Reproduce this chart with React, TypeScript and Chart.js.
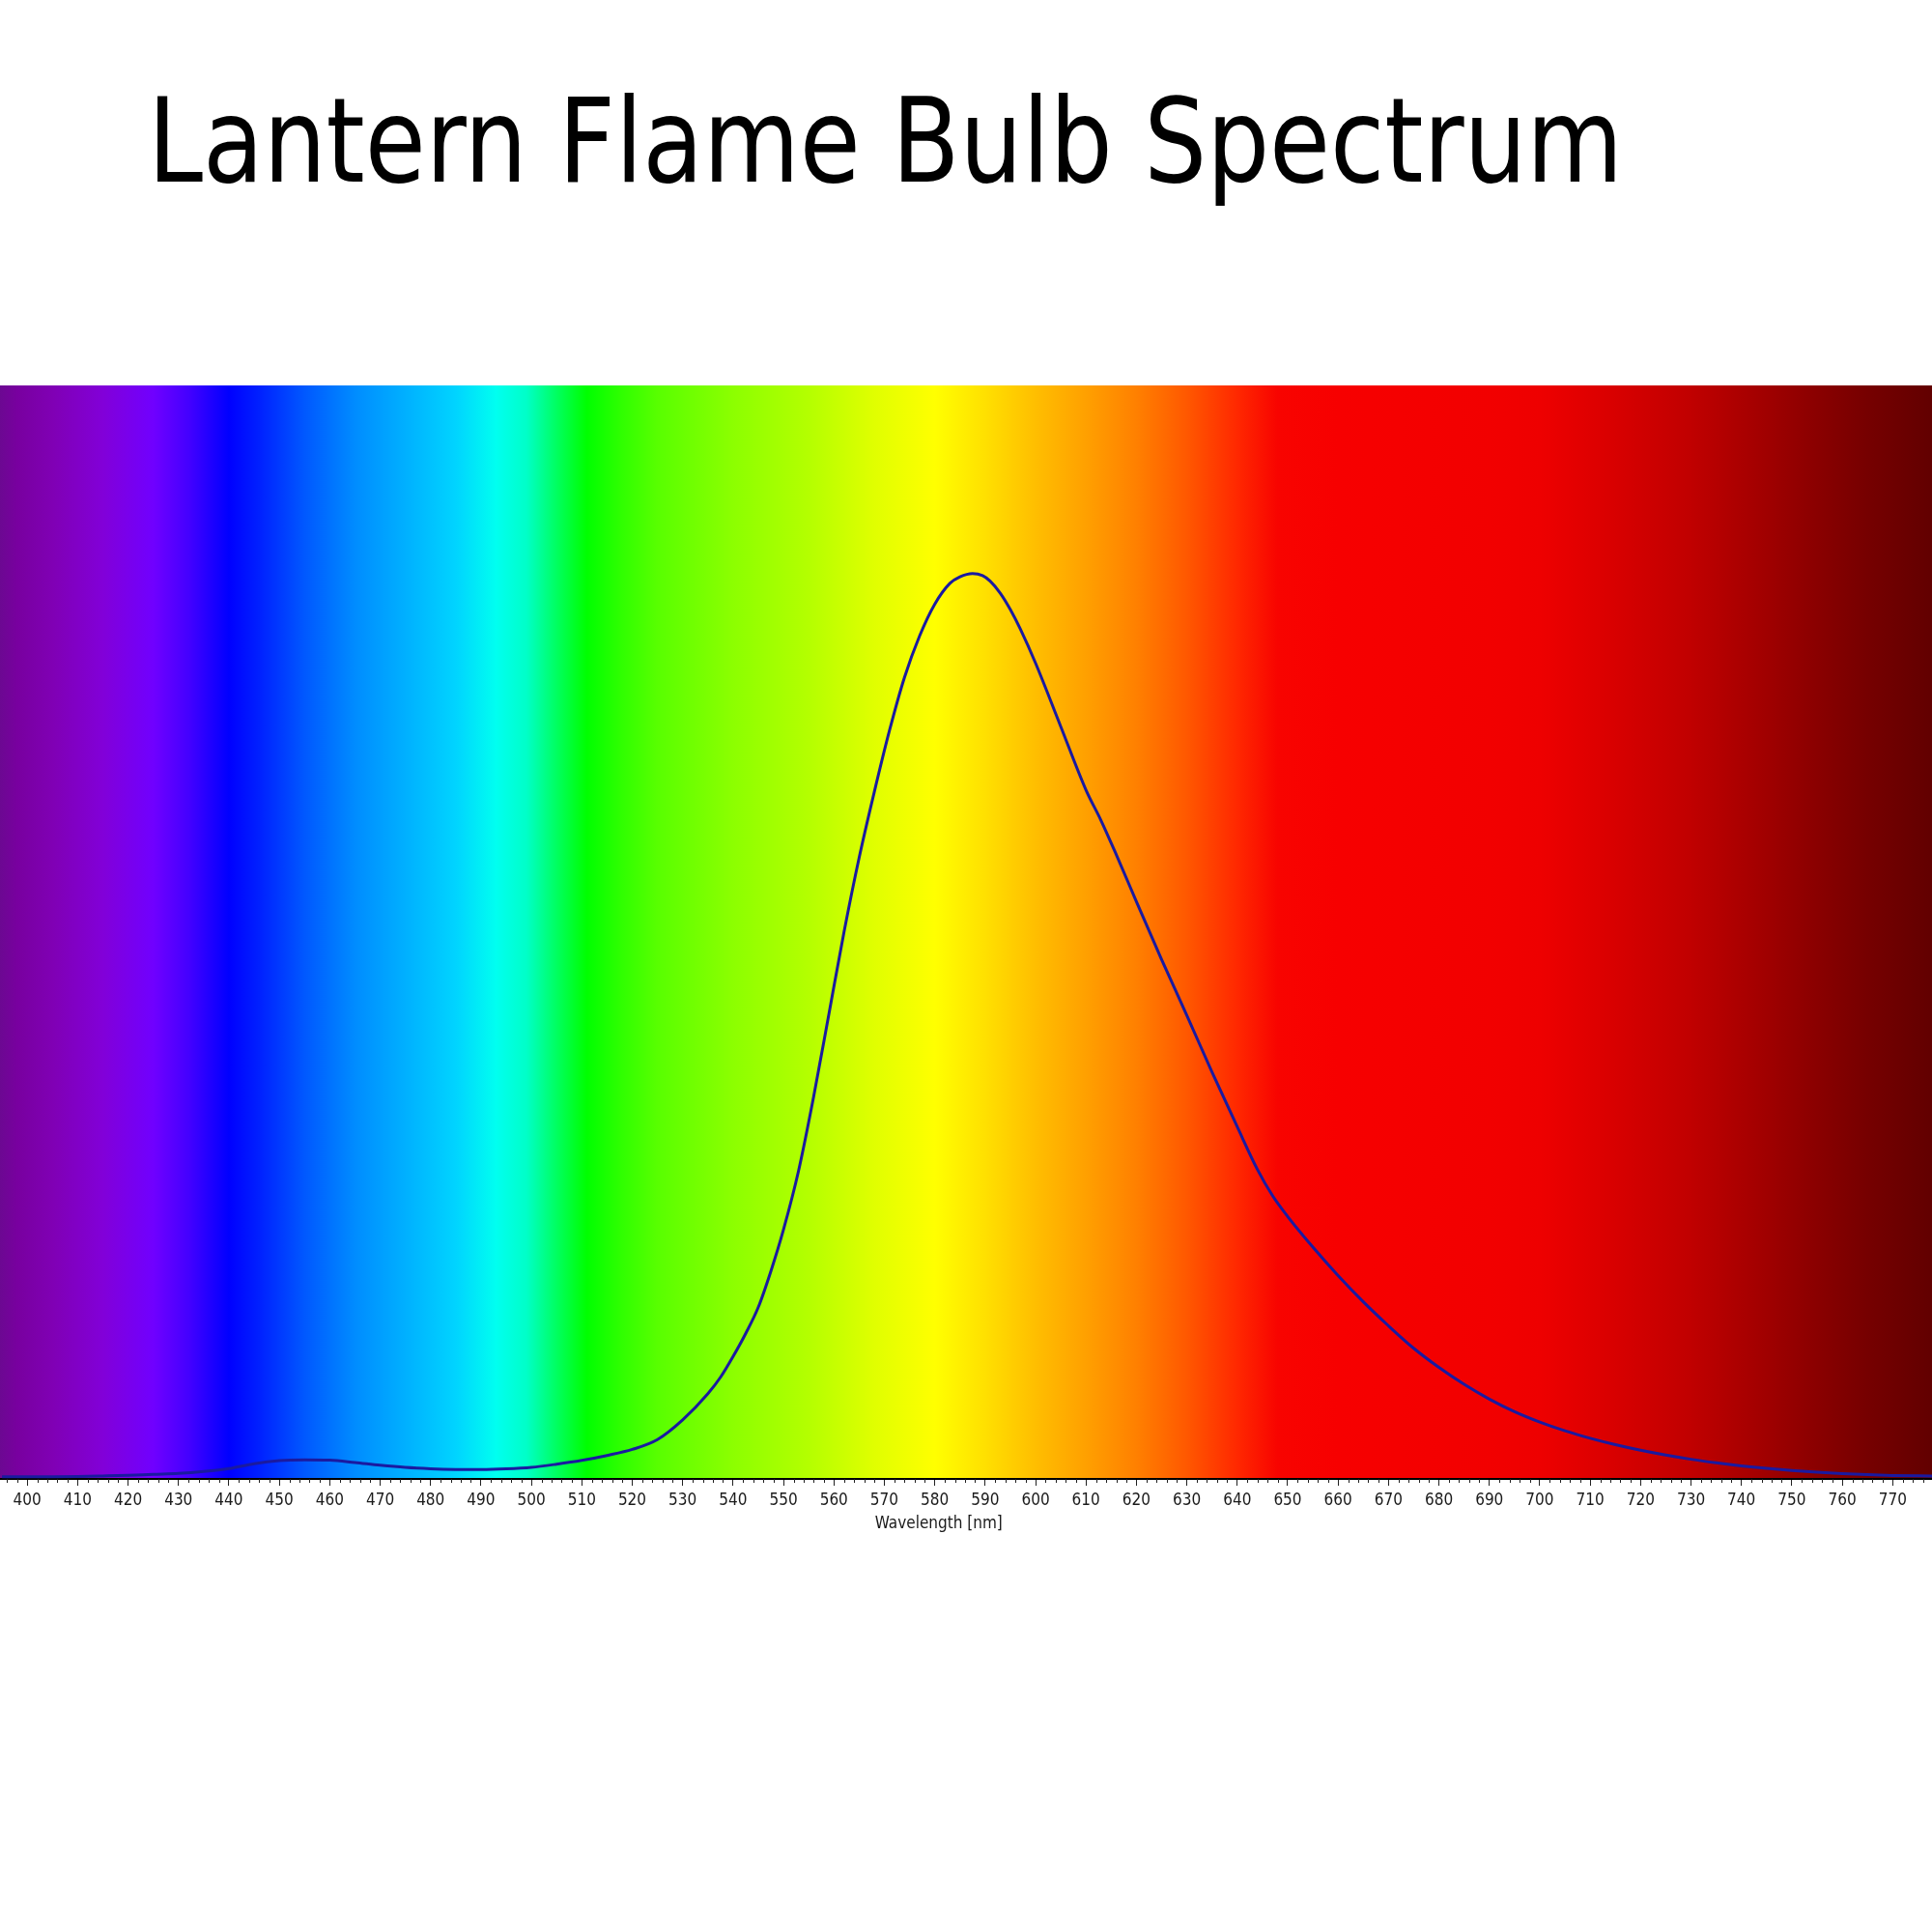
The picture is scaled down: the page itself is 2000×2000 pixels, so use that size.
import Chart from 'chart.js/auto';
import { useEffect, useRef } from 'react';

// wavelength samples (nm) and relative intensity
const wavelengths = [
  395, 400, 405, 410, 415, 420, 425, 430, 435, 440, 445, 450, 455, 460, 465, 470, 475, 480, 485, 490,
  495, 500, 505, 510, 515, 520, 525, 530, 535, 537.5, 540, 542.5, 545, 547.5, 550, 553, 556, 559, 562, 565,
  568, 571, 574, 577, 580, 583, 585, 587.5, 589.5, 591, 593, 595, 597, 600, 605, 610, 613, 616, 620, 625,
  630, 635, 640, 644, 647, 650, 655, 660, 665, 670, 675, 680, 685, 690, 695, 700, 705, 710, 715, 720,
  725, 730, 735, 740, 745, 750, 755, 760, 765, 770, 778,
];
const intensity = [
  0.002, 0.002, 0.002, 0.0022, 0.0027, 0.0033, 0.0042, 0.005, 0.0068, 0.0095, 0.014, 0.0168, 0.0175, 0.0172, 0.015, 0.0125, 0.0105, 0.0093, 0.0087, 0.0086,
  0.0092, 0.0106, 0.0135, 0.017, 0.0215, 0.027, 0.036, 0.054, 0.078, 0.093, 0.112, 0.133, 0.157, 0.19, 0.228, 0.282, 0.35, 0.425, 0.5, 0.568,
  0.628, 0.684, 0.733, 0.771, 0.8, 0.819, 0.825, 0.828, 0.826, 0.821, 0.81, 0.795, 0.777, 0.746, 0.688, 0.63, 0.602, 0.571, 0.528, 0.475,
  0.424, 0.372, 0.322, 0.283, 0.259, 0.24, 0.212, 0.186, 0.162, 0.14, 0.1195, 0.102, 0.0865, 0.073, 0.0615, 0.052, 0.044, 0.0372, 0.0313, 0.0262,
  0.0218, 0.018, 0.0148, 0.012, 0.0097, 0.0078, 0.0062, 0.0049, 0.0039, 0.0032, 0.0026,
];
const axisMin = 394.6;
const axisMax = 777.8;
const axisTitle = 'Wavelength [nm]';

// background colour of the visible spectrum, by wavelength
const spectrumStops: [number, string][] = [
  [394.6, '#6c0892'], [398, '#78009f'], [405, '#8000b4'], [415, '#8200d8'], [425, '#7000ff'],
  [432, '#4400ff'], [440, '#0000ff'], [446, '#0020ff'], [455, '#0058ff'], [465, '#008cff'],
  [475, '#00b0ff'], [485, '#00d4ff'], [493, '#00fff0'], [499, '#00ffc8'], [505, '#00ff60'],
  [511, '#00ff00'], [518, '#30ff00'], [525, '#58ff00'], [540, '#8cff00'], [555, '#b4ff00'],
  [568, '#e0ff00'], [580, '#ffff00'], [590, '#ffe000'], [600, '#ffbe00'], [610, '#ffa000'],
  [620, '#ff8000'], [630, '#ff5800'], [640, '#ff2800'], [648, '#f80400'], [660, '#f70000'],
  [690, '#f20000'], [700, '#ee0000'], [715, '#d80000'], [730, '#c00000'], [745, '#a00000'],
  [755, '#8a0000'], [765, '#760000'], [777.8, '#620000'],
];

const labelFont = "'Liberation Sans Narrow', 'Arial Narrow', 'DejaVu Sans Condensed', sans-serif";

const spectrumBackground = {
  id: 'spectrumBackground',
  beforeDraw(chart: any) {
    const { ctx, chartArea } = chart;
    const x = chart.scales.x;
    const grad = ctx.createLinearGradient(chartArea.left, 0, chartArea.right, 0);
    spectrumStops.forEach(([nm, color]) => {
      const p = (x.getPixelForValue(nm) - chartArea.left) / (chartArea.right - chartArea.left);
      grad.addColorStop(Math.min(1, Math.max(0, p)), color);
    });
    ctx.save();
    ctx.fillStyle = grad;
    ctx.fillRect(chartArea.left, chartArea.top, chartArea.right - chartArea.left, chartArea.bottom - chartArea.top);
    ctx.restore();
  },
};

// 2 nm minor ticks under the axis, plus the axis caption (sits a little left of centre in the original)
const axisExtras = {
  id: 'axisExtras',
  afterDraw(chart: any) {
    const { ctx, chartArea } = chart;
    const x = chart.scales.x;
    ctx.save();
    ctx.strokeStyle = '#222';
    ctx.lineWidth = 1;
    ctx.beginPath();
    for (let nm = 396; nm <= 776; nm += 2) {
      if (nm % 10 === 0) continue;
      const px = Math.round(x.getPixelForValue(nm)) + 0.5;
      ctx.moveTo(px, chartArea.bottom);
      ctx.lineTo(px, chartArea.bottom + 4);
    }
    ctx.stroke();

    ctx.fillStyle = '#1a1a1a';
    ctx.font = `17px ${labelFont}`;
    ctx.textAlign = 'center';
    ctx.textBaseline = 'middle';
    ctx.fillText(axisTitle, x.getPixelForValue(580.8), chartArea.bottom + 47);
    ctx.restore();
  },
};

export default function App() {
  const canvasRef = useRef<HTMLCanvasElement>(null);

  useEffect(() => {
    if (!canvasRef.current) return;

    const chart = new Chart(canvasRef.current, {
      type: 'line',
      data: {
        datasets: [
          {
            data: wavelengths.map((nm, i) => ({ x: nm, y: intensity[i] })),
            borderColor: '#1a1aa0',
            borderWidth: 3,
            pointRadius: 0,
            cubicInterpolationMode: 'monotone',
            fill: false,
          },
        ],
      },
      options: {
        animation: false,
        responsive: true,
        maintainAspectRatio: false,
        layout: { padding: 0 },
        plugins: {
          legend: { display: false },
          tooltip: { enabled: false },
        },
        scales: {
          x: {
            type: 'linear',
            min: axisMin,
            max: axisMax,
            afterFit: (scale: any) => {
              scale.height = 69;
            },
            border: { color: '#000', width: 2 },
            grid: {
              drawOnChartArea: false,
              drawTicks: true,
              tickLength: 7,
              tickColor: '#222',
            },
            ticks: {
              stepSize: 10,
              includeBounds: false,
              autoSkip: false,
              maxRotation: 0,
              padding: 5,
              color: '#1a1a1a',
              font: { family: labelFont, size: 17 },
            },
          },
          y: {
            display: false,
            min: 0,
            max: 1,
          },
        },
      },
      plugins: [spectrumBackground, axisExtras],
    });

    return () => chart.destroy();
  }, []);

  return (
    <div style={{ position: 'fixed', left: 0, top: 0, width: 2000, height: 2000, background: '#fff', overflow: 'hidden' }}>
      <div
        style={{
          position: 'absolute',
          left: 153,
          top: 86,
          fontFamily: "'DejaVu Sans Condensed', 'DejaVu Sans', sans-serif",
          fontSize: 121,
          lineHeight: 1,
          color: '#000',
          whiteSpace: 'nowrap',
          transform: 'scaleX(0.94)',
          transformOrigin: 'left top',
        }}
      >
        Lantern Flame Bulb Spectrum
      </div>
      <div style={{ position: 'absolute', left: 0, top: 399, width: 2000, height: 1201 }}>
        <canvas ref={canvasRef}></canvas>
      </div>
    </div>
  );
}
